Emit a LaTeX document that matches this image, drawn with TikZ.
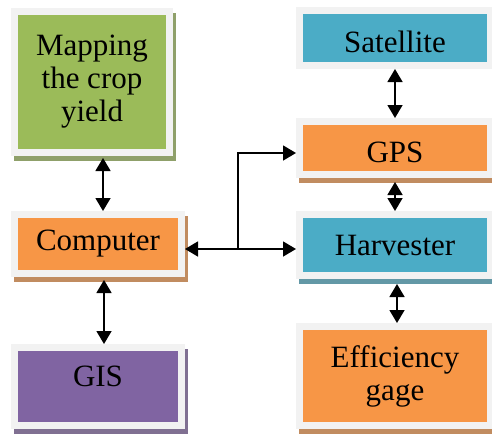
\documentclass[tikz,border=0pt]{standalone}
\usepackage{fontspec}
\setmainfont{Liberation Serif}
\usetikzlibrary{arrows.meta,backgrounds}

\definecolor{mapgreen}{HTML}{9BBB59}
\definecolor{satblue}{HTML}{4BACC6}
\definecolor{boxorange}{HTML}{F79646}
\definecolor{gispurple}{HTML}{8064A2}
\definecolor{framegray}{HTML}{F2F2F2}

\tikzset{
	block/.style={draw=framegray, line width=7pt, outer sep=3.5pt, inner sep=0pt,
		align=center, font=\fontsize{31}{33}\selectfont},
	link/.style={{Triangle[length=13pt,width=15pt]}-{Triangle[length=13pt,width=15pt]}, line width=1.5pt},
	feed/.style={-{Triangle[length=13pt,width=15pt]}, line width=1.5pt},
}

\begin{document}
\begin{tikzpicture}[x=1pt,y=-1pt]

	\useasboundingbox (0,0) rectangle (492,434);

	% left column
	\node[block, fill=mapgreen, minimum width=155pt, minimum height=141pt] (map) at (92,82) {Mapping\\the crop\\yield};
	\node[block, fill=boxorange, minimum width=167pt, minimum height=59pt] (comp) at (98,244) {Computer};
	\node[block, fill=gispurple, minimum width=167pt, minimum height=78pt, text depth=20pt] (gis) at (98,386.5) {GIS};

	% right column
	\node[block, fill=satblue, minimum width=191pt, minimum height=55pt, text height=29pt] (sat) at (395,38) {Satellite};
	\node[block, fill=boxorange, minimum width=191pt, minimum height=53pt, text height=29pt] (gps) at (395,148) {GPS};
	\node[block, fill=satblue, minimum width=191pt, minimum height=61pt] (harv) at (395,245) {Harvester};
	\node[block, fill=boxorange, minimum width=191pt, minimum height=99pt] (eff) at (395,376) {Efficiency\\gage};

	% shadows
	\begin{scope}[on background layer]
		\foreach \n/\c in {map/mapgreen, comp/boxorange, gis/gispurple, gps/boxorange, harv/satblue, eff/boxorange}
			\fill[\c!55!gray] ([xshift=2.5pt,yshift=-5pt]\n.south west) rectangle ([xshift=2.5pt,yshift=-5pt]\n.north east);
	\end{scope}

	% links
	\draw[link] ([xshift=11pt,yshift=-2pt]map.south) -- ([xshift=5pt]comp.north);
	\draw[link] ([xshift=6pt,yshift=-3pt]comp.south) -- ([xshift=6pt]gis.north);
	\draw[link] (sat.south) -- (gps.north);
	\draw[link] ([yshift=-4pt]gps.south) -- (harv.north);
	\draw[link] ([xshift=2pt,yshift=-5pt]harv.south) -- ([xshift=2pt]eff.north);

	\coordinate (split) at (238,249);
	\draw[link] ([yshift=-5pt]comp.east) -- ([yshift=-4pt]harv.west);
	\draw[feed] (split) |- ([yshift=-5pt]gps.west);

\end{tikzpicture}
\end{document}
